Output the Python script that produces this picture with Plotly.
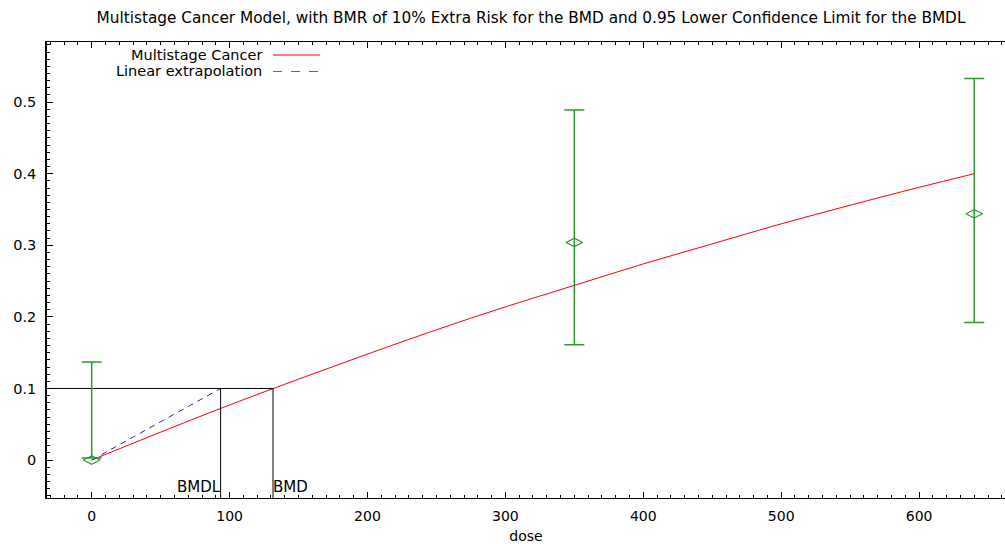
import plotly.graph_objects as go

# ---------------- data ----------------
dose_obs = [0, 350, 640]
resp_obs = [0.0, 0.304, 0.344]
ci_low = [0.003, 0.161, 0.192]
ci_high = [0.137, 0.489, 0.533]

model_dose = [0, 50, 100, 150, 200, 250, 300, 350, 400, 450, 500, 550, 600, 640]
model_resp = [0.0, 0.039, 0.077, 0.113, 0.148, 0.182, 0.214, 0.244, 0.274, 0.302, 0.330, 0.356, 0.381, 0.400]

bmr = 0.1
bmd = 131.5
bmdl = 93.5

x_range = [-32.4, 662.3]
y_range = [-0.053, 0.584]

title_text = ("Multistage Cancer Model, with BMR of 10% Extra Risk for the BMD "
              "and 0.95 Lower Confidence Limit for the BMDL")

FONT = "DejaVu Sans"
GREEN = "rgb(50,150,50)"
BLUE = "rgb(40,40,180)"

fig = go.Figure()

# model curve
fig.add_trace(go.Scatter(x=model_dose, y=model_resp, mode="lines",
                         line=dict(color="red", width=1, shape="spline"),
                         name="Multistage Cancer", showlegend=False))
# linear extrapolation
fig.add_trace(go.Scatter(x=[0, bmdl], y=[0, bmr], mode="lines",
                         line=dict(color=BLUE, width=1, dash="6px,5px"),
                         name="Linear extrapolation", showlegend=False))
# BMD / BMDL guide lines
fig.add_trace(go.Scatter(x=[x_range[0], bmd], y=[bmr, bmr], mode="lines",
                         line=dict(color="black", width=1), showlegend=False))
fig.add_trace(go.Scatter(x=[bmdl, bmdl], y=[y_range[0], bmr], mode="lines",
                         line=dict(color="black", width=1), showlegend=False))
fig.add_trace(go.Scatter(x=[bmd, bmd], y=[y_range[0], bmr], mode="lines",
                         line=dict(color="black", width=1), showlegend=False))

# observed data with CI
fig.add_trace(go.Scatter(
    x=dose_obs, y=resp_obs, mode="markers",
    marker=dict(symbol="diamond-wide-open", size=12, color=GREEN,
                line=dict(color=GREEN, width=1.2)),
    error_y=dict(type="data", symmetric=False,
                 array=[h - r for h, r in zip(ci_high, resp_obs)],
                 arrayminus=[r - l for r, l in zip(resp_obs, ci_low)],
                 color=GREEN, thickness=1.5, width=10),
    showlegend=False))

# BMD labels
fig.add_annotation(x=bmdl, y=-0.038, xref="x", yref="y", text="BMDL",
                   showarrow=False, xanchor="right", yanchor="middle",
                   xshift=1, borderpad=0,
                   font=dict(family=FONT, size=15, color="black"))
fig.add_annotation(x=bmd, y=-0.038, xref="x", yref="y", text="BMD",
                   showarrow=False, xanchor="left", yanchor="middle",
                   xshift=-1, borderpad=0,
                   font=dict(family=FONT, size=15, color="black"))

W, H = 1005, 544
ML, MR, MT, MB = 47, 0, 42, 544 - 498
pw, ph = W - ML - MR, H - MT - MB


def px(xp):
    return (xp - ML) / pw


def py(yp):
    return (H - MB - yp) / ph


legend_items = [("Multistage Cancer", "red", "solid", 55),
                ("Linear extrapolation", "rgb(90,90,200)", "dash", 71.5)]
for label, col, dash, ypix in legend_items:
    fig.add_annotation(x=px(263), y=py(ypix), xref="paper", yref="paper",
                       text=label, showarrow=False, xanchor="right",
                       yanchor="middle", borderpad=0,
                       font=dict(family=FONT, size=14.5, color="black"))
    fig.add_shape(type="line", xref="paper", yref="paper",
                  x0=px(273), x1=px(320), y0=py(ypix), y1=py(ypix),
                  line=dict(color=col, width=1.2, dash=dash))

fig.update_layout(
    width=W, height=H,
    margin=dict(l=ML, r=MR, t=MT, b=MB, autoexpand=False),
    paper_bgcolor="white", plot_bgcolor="white",
    font=dict(family=FONT, size=14, color="black"),
    title=dict(text=title_text, x=531 / W, xref="container",
               xanchor="center", y=(H - 18) / H, yref="container",
               yanchor="middle",
               font=dict(family=FONT, size=15.3, color="black")),
    showlegend=False,
    xaxis=dict(range=x_range, dtick=100, tick0=0, showgrid=False,
               automargin=False,
               zeroline=False, showline=True, linecolor="black", linewidth=1,
               mirror="ticks", ticks="inside", ticklen=6, tickcolor="black",
               minor=dict(dtick=10, ticks="inside", ticklen=3,
                          tickcolor="black", showgrid=False),
               tickfont=dict(family=FONT, size=14), ticklabelstandoff=5,
               title=dict(text="dose", standoff=12,
                          font=dict(family=FONT, size=14))),
    yaxis=dict(range=y_range, dtick=0.1, tick0=0, showgrid=False,
               automargin=False,
               zeroline=False, showline=True, linecolor="black", linewidth=1.5,
               ticks="inside", ticklen=6, tickcolor="black",
               minor=dict(dtick=0.01, ticks="inside", ticklen=3,
                          tickcolor="black", showgrid=False),
               tickfont=dict(family=FONT, size=14.5), ticklabelstandoff=6),
)

fig.write_html(
    "out.html",
    config={"displayModeBar": False},
    post_script="document.body.style.margin='0';document.body.style.overflow='hidden';",
)
